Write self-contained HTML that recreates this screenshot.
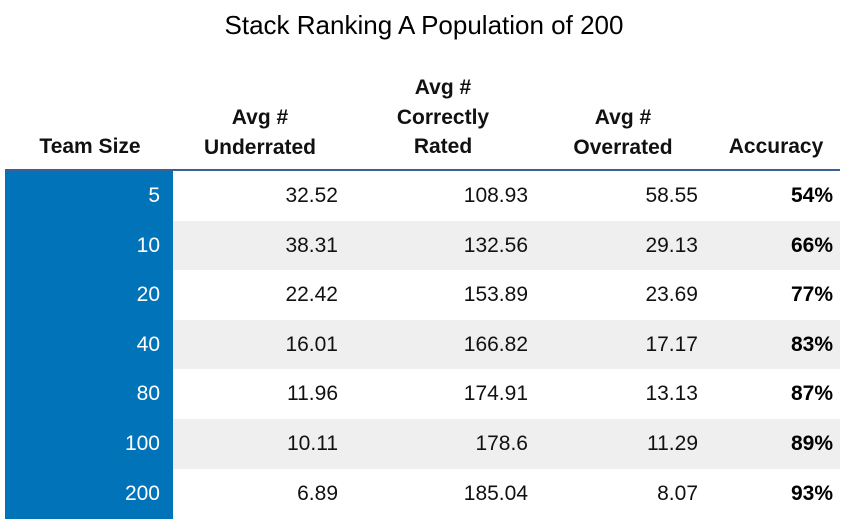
<!DOCTYPE html>
<html><head><meta charset="utf-8"><style>
body{margin:0;width:848px;height:520px;background:#fff;font-family:"Liberation Sans",Arial,sans-serif;position:relative;overflow:hidden}
.a{position:absolute;white-space:nowrap}
.t{left:0;width:848px;text-align:center;top:10px;font-size:26px;color:#000}
.h{font-weight:bold;font-size:21px;text-align:center;line-height:29.5px;color:#111}
.c{font-size:21px;text-align:right;color:#111}
</style></head><body>
<div class="a t">Stack Ranking A Population of 200</div>
<div class="a h" style="left:10px;width:160px;top:132px">Team Size</div>
<div class="a h" style="left:180px;width:160px;top:103px">Avg #<br>Underrated</div>
<div class="a h" style="left:363px;width:160px;top:73px">Avg #<br>Correctly<br>Rated</div>
<div class="a h" style="left:543px;width:160px;top:103px">Avg #<br>Overrated</div>
<div class="a h" style="left:706px;width:140px;top:132px">Accuracy</div>
<div class="a" style="left:5px;width:835px;top:169px;height:2px;background:#3c5f98"></div>
<div id="rows"></div>
<script>
const teamSizes=["5","10","20","40","80","100","200"];
const underrated=["32.52","38.31","22.42","16.01","11.96","10.11","6.89"];
const correct=["108.93","132.56","153.89","166.82","174.91","178.6","185.04"];
const overrated=["58.55","29.13","23.69","17.17","13.13","11.29","8.07"];
const accuracy=["54%","66%","77%","83%","87%","89%","93%"];
const host=document.getElementById('rows');
const top0=171,rh=49.6;
teamSizes.forEach((ts,i)=>{
  const y=top0+i*rh;
  const bg=document.createElement('div');bg.className='a';
  
  
  bg.style.cssText=`left:173px;width:667px;top:${y}px;height:${rh}px;background:${i%2?'#efefef':'#fff'}`;
  host.appendChild(bg);
  const bl=document.createElement('div');bl.className='a';
  
  
  bl.style.cssText=`left:5px;width:168px;top:${y}px;height:${rh+0.5}px;background:#0073b9`;
  host.appendChild(bl);
  const cells=[[ts,160,'#fff',false],[underrated[i],338,'#111',false],[correct[i],528,'#111',false],[overrated[i],698,'#111',false],[accuracy[i],833,'#000',true]];
  cells.forEach(([txt,r,col,b])=>{
    const d=document.createElement('div');d.className='a c';
    
    
    d.textContent=txt;
    d.style.cssText=`left:${r-150}px;width:150px;top:${y+13}px;color:${col};${b?'font-weight:bold;':''}`;
    host.appendChild(d);
  });
});
</script>
</body></html>
